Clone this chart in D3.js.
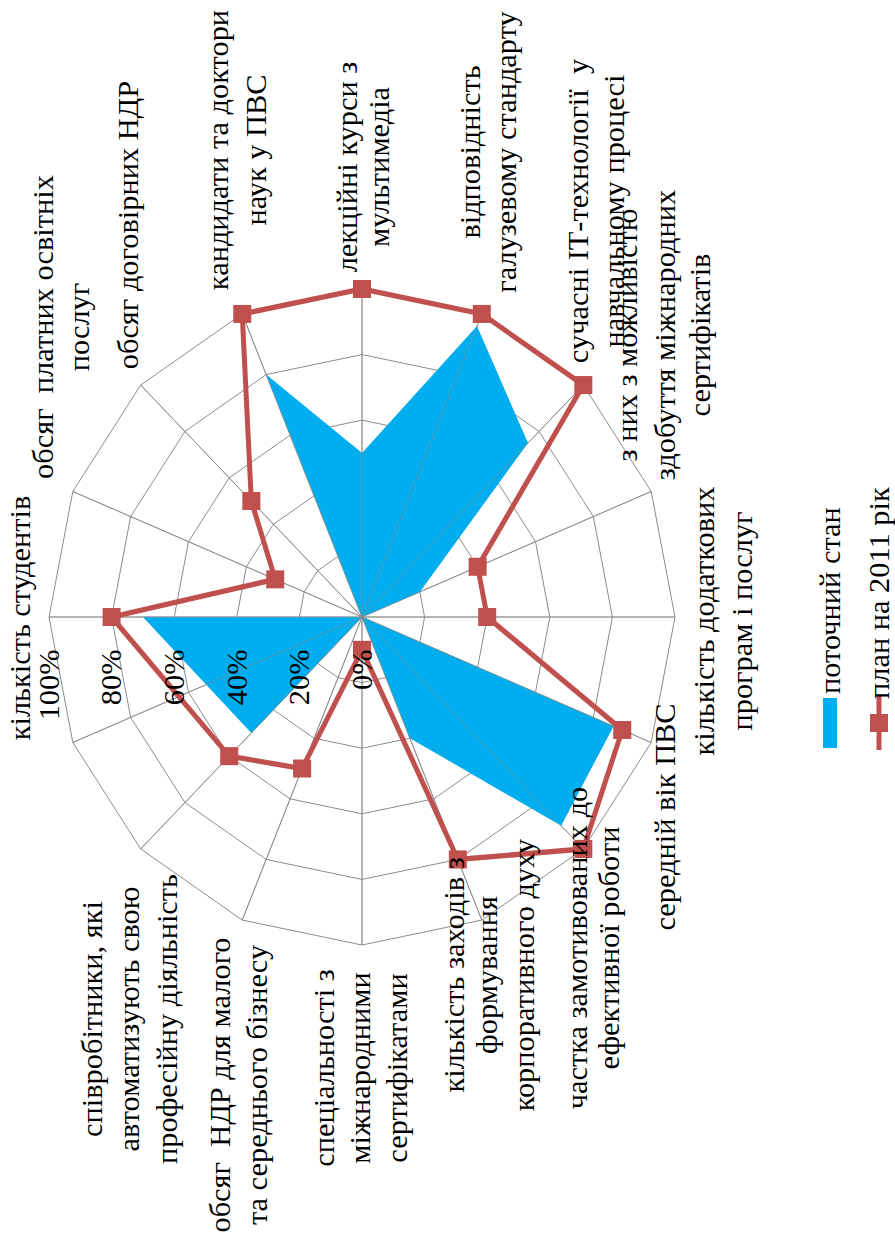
<!DOCTYPE html>
<html><head><meta charset="utf-8">
<script src="https://cdnjs.cloudflare.com/ajax/libs/d3/7.8.5/d3.min.js"></script>
<style>
html,body{margin:0;padding:0;background:#fff;}
svg text{white-space:pre;}
</style></head>
<body><svg id="c" width="895" height="1246"></svg>
<script>
// ---- data ----
const categories = [
  ["кількість студентів"],
  ["обсяг  платних освітніх", "послуг"],
  ["обсяг договірних НДР"],
  ["кандидати та доктори", "наук у ПВС"],
  ["лекційні курси з", "мультимедіа"],
  ["відповідність", "галузевому стандарту"],
  ["сучасні ІТ-технології  у", "навчальному процесі"],
  ["з них з можливістю", "здобуття міжнародних", "сертифікатів"],
  ["кількість додаткових", "програм і послуг"],
  ["середній вік ПВС"],
  ["частка замотивованих до", "ефективної роботи"],
  ["кількість заходів з", "формування", "корпоративного духу"],
  ["спеціальності з", "міжнародними", "сертифікатами"],
  ["обсяг  НДР для малого", "та середнього бізнесу"],
  ["співробітники, які", "автоматизують свою", "професійну діяльність"],
  [""]
];
const seriesNames = ["поточний стан", "план на 2011 рік"];
const current = [70, 0, 0, 80, 50, 96, 75, 20, 0, 87, 90, 40, 0, 0, 50, null];
const plan    = [80, 30, 50, 100, 100, 100, 100, 40, 40, 90, 100, 80, 10, 50, 60, null];
const tickValues = [0, 20, 40, 60, 80, 100];
const tickLabels = ["0%", "20%", "40%", "60%", "80%", "100%"];

// ---- layout (screen coords of label line centres) ----
const labelLayout = [
  {xs:[23], y:618},
  {xs:[46,82], y:327},
  {xs:[131], y:225},
  {xs:[221,259], y:150},
  {xs:[350,382], y:167},
  {xs:[473,509], y:152},
  {xs:[581,617], y:211},
  {xs:[630,668,703], y:335},
  {xs:[707,745], y:621},
  {xs:[668], y:817},
  {xs:[580,612], y:948},
  {xs:[457,490,527], y:975},
  {xs:[327,363,400], y:1068},
  {xs:[223,260], y:1085},
  {xs:[95,132,170], y:1019},
  {xs:[], y:0}
];
const CX = 362, CY = 617, K = 1.048, R = 313, FS = 29;
const FONT = "'Liberation Serif', 'DejaVu Serif', 'Times New Roman', serif";
const blue = "#00AEEF", red = "#C0504D", grid = "#8c8c8c";

const svg = d3.select("#c");
const g = svg.append("g")
  .attr("transform", `scale(1,${K}) translate(${CX},${CY/K}) rotate(-90)`)
  .attr("font-family", FONT).attr("fill", "#000");
const toFrame = (sx, sy) => [(CY - sy)/K, sx - CX];

const n = categories.length;
const a = d3.scaleLinear().domain([0, n]).range([0, 2*Math.PI]);
const r = d3.scaleLinear().domain([0, 100]).range([0, R]);
const idx = d3.range(n);

// grid rings
const ring = d3.lineRadial().angle(i => a(i)).curve(d3.curveLinearClosed);
tickValues.slice(1).forEach(t => {
  g.append("path").attr("d", ring.radius(() => r(t))(idx))
    .attr("fill", "none").attr("stroke", grid).attr("stroke-width", 1)
    .attr("vector-effect", "non-scaling-stroke");
});
// spokes
function spokes(op) {
  idx.forEach(i => {
    const th = a(i);
    g.append("line").attr("x1", 0).attr("y1", 0)
      .attr("x2", r(100)*Math.sin(th)).attr("y2", -r(100)*Math.cos(th))
      .attr("stroke", grid).attr("stroke-opacity", op).attr("stroke-width", 1)
      .attr("vector-effect", "non-scaling-stroke");
  });
}
spokes(1);

// series
const pts = arr => arr.map((v, i) => ({v, i})).filter(d => d.v !== null);
const sLine = d3.lineRadial().angle(d => a(d.i)).radius(d => r(d.v)).curve(d3.curveLinearClosed);

g.append("path").attr("d", sLine(pts(current))).attr("fill", blue).attr("stroke", "none");
spokes(0.6);
g.append("path").attr("d", sLine(pts(plan))).attr("fill", "none")
  .attr("stroke", red).attr("stroke-width", 5).attr("stroke-linejoin", "miter");
const ms = 18;
g.selectAll(".mk").data(pts(plan)).enter().append("rect")
  .attr("x", d => r(d.v)*Math.sin(a(d.i)) - ms/2/K)
  .attr("y", d => -r(d.v)*Math.cos(a(d.i)) - ms/2)
  .attr("width", ms/K).attr("height", ms).attr("fill", red);

// tick labels
tickValues.forEach((t, j) => {
  g.append("text").attr("x", -31).attr("y", -r(t)).attr("dy", "0.34em")
    .attr("text-anchor", "end").attr("font-size", FS).attr("font-family", FONT).text(tickLabels[j]);
});

// category labels
categories.forEach((lines, i) => {
  const L = labelLayout[i];
  lines.forEach((s, j) => {
    if (!s) return;
    const [fx, fy] = toFrame(L.xs[j], L.y);
    g.append("text").attr("x", fx).attr("y", fy).attr("dy", "0.24em")
      .attr("text-anchor", "middle").attr("font-size", FS).attr("font-family", FONT).text(s);
  });
});

// legend
{
  const [bx, by] = toFrame(823, 748);
  g.append("rect").attr("x", bx).attr("y", by).attr("width", 50/K).attr("height", 14).attr("fill", blue);
  const [t1x, t1y] = toFrame(831, 694);
  g.append("text").attr("x", t1x).attr("y", t1y).attr("dy", "0.3em").attr("font-size", FS)
    .attr("font-family", FONT).text(seriesNames[0]);
  const [l1x, ly] = toFrame(879, 750);
  const [l2x] = toFrame(879, 696);
  g.append("line").attr("x1", l1x).attr("x2", l2x).attr("y1", ly).attr("y2", ly)
    .attr("stroke", red).attr("stroke-width", 5);
  g.append("rect").attr("x", (l1x + l2x)/2 - ms/2/K).attr("y", ly - ms/2)
    .attr("width", ms/K).attr("height", ms).attr("fill", red);
  const [t2x, t2y] = toFrame(880, 699);
  g.append("text").attr("x", t2x).attr("y", t2y).attr("dy", "0.3em").attr("font-size", FS)
    .attr("font-family", FONT).text(seriesNames[1]);
}
</script></body></html>
